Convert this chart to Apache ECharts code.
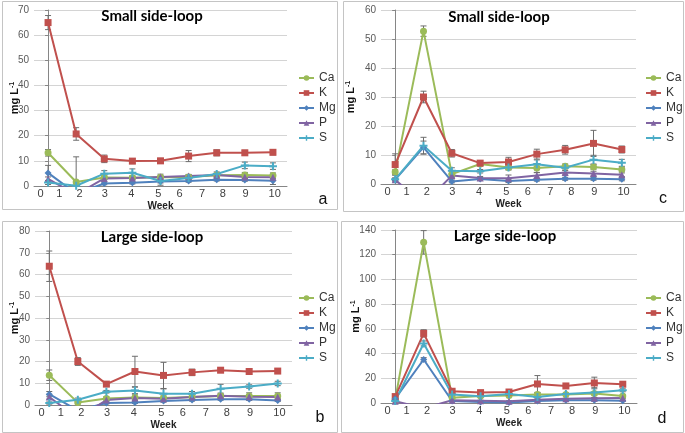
<!DOCTYPE html>
<html>
<head>
<meta charset="utf-8">
<script src="https://cdn.jsdelivr.net/npm/echarts@6/dist/echarts.min.js"></script>
<style>
html, body { margin: 0; padding: 0; background: #fff; }
#chart { width: 685px; height: 433px; }
</style>
</head>
<body>
<div id="chart"></div>
<script>
// week tick labels and where they sit (in sample-index units, samples are evenly spaced)
const weekTicks = [0, 1, 2, 3, 4, 5, 6, 7, 8, 9, 10]
const tickPos = [-0.27, 0.40, 1.12, 2.02, 2.96, 3.92, 4.68, 5.48, 6.22, 7.03, 8.06]
const elements = ['Ca', 'K', 'Mg', 'P', 'S']

// a - small side-loop (first set)
const aCa = [13.2, 1.6, 3.4, 3.3, 3.5, 3.6, 4.3, 4.4, 4.2]
const aCaErr = [1.3, 10, 0.8, 0.8, 1.2, 0.8, 0.8, 1.0, 1.0]
const aK = [65, 20.7, 10.8, 9.9, 10.0, 11.9, 13.2, 13.2, 13.4]
const aKErr = [2.8, 2.5, 1.5, 1.0, 1.0, 2.2, 1.2, 1.0, 1.0]
const aMg = [5.2, -3.0, 1.0, 1.3, 1.8, 2.0, 2.5, 2.4, 2.1]
const aMgErr = [3.0, 0, 0.5, 0.5, 1.5, 0.5, 0.5, 0.5, 1.5]
const aP = [2.8, -3.4, 3.0, 3.2, 3.6, 4.0, 4.4, 3.6, 3.5]
const aPErr = [0.8, 0, 0.5, 0.5, 0.5, 0.6, 0.6, 0.6, 0.6]
const aS = [1.4, 0.1, 4.9, 5.3, 2.0, 3.2, 4.8, 8.2, 7.9]
const aSErr = [0.8, 0.3, 1.2, 1.5, 0.8, 0.8, 0.8, 1.3, 1.3]

// c - small side-loop (second set)
const cCa = [4.1, 52.7, 3.4, 6.9, 5.7, 5.5, 6.1, 5.9, 5.0]
const cCaErr = [0.8, 1.8, 1.0, 0.6, 0.8, 1.5, 0.8, 0.8, 0.8]
const cK = [6.7, 30.0, 10.6, 7.2, 7.6, 10.3, 11.8, 14.0, 11.9]
const cKErr = [3.7, 2.0, 1.3, 0.8, 1.6, 1.7, 1.5, 4.5, 1.2]
const cMg = [1.5, 12.6, 0.9, 1.7, 1.0, 1.5, 1.8, 1.8, 1.6]
const cMgErr = [0.5, 2.2, 0.5, 0.5, 0.5, 0.5, 0.5, 0.5, 0.5]
const cP = [1.5, -7.0, 2.9, 2.1, 2.0, 2.9, 4.0, 3.6, 3.2]
const cPErr = [0.3, 0, 0.5, 0.5, 1.1, 1.0, 0.6, 0.8, 0.6]
const cS = [1.6, 13.2, 4.6, 4.4, 5.7, 6.8, 5.6, 8.4, 7.3]
const cSErr = [0.5, 2.9, 1.0, 0.6, 0.8, 1.5, 0.8, 1.5, 1.2]

// b - large side-loop (first set)
const bCa = [13.7, 1.1, 3.0, 3.5, 3.2, 3.7, 4.1, 4.1, 4.1]
const bCaErr = [2.4, 0.5, 0.8, 1.5, 1.0, 0.8, 0.8, 1.5, 1.5]
const bK = [63.8, 20.0, 9.6, 15.4, 13.6, 15.0, 16.0, 15.4, 15.6]
const bKErr = [7.0, 1.8, 0.8, 7.0, 6.0, 1.5, 1.0, 1.2, 1.0]
const bMg = [5.0, -2.5, 0.9, 1.2, 1.8, 2.3, 2.7, 2.6, 2.1]
const bMgErr = [1.2, 0, 0.4, 0.5, 0.5, 0.5, 0.5, 0.5, 0.5]
const bP = [3.7, -6.1, 2.3, 3.2, 2.9, 3.7, 4.3, 3.8, 3.7]
const bPErr = [1.0, 0, 0.6, 0.6, 0.6, 0.6, 0.8, 0.6, 0.6]
const bS = [0.9, 2.4, 6.1, 6.7, 5.2, 5.2, 7.5, 8.5, 9.9]
const bSErr = [0.5, 0.8, 0.6, 1.5, 2.2, 1.0, 2.0, 0.8, 1.0]

// d - large side-loop (second set)
const dCa = [2.7, 130.0, 4.3, 5.7, 6.0, 6.8, 6.8, 7.6, 5.7]
const dCaErr = [0.5, 9.5, 0.6, 0.6, 0.8, 1.5, 0.8, 1.2, 0.8]
const dK = [5.2, 56.3, 9.5, 8.4, 8.9, 15.4, 13.8, 16.2, 15.2]
const dKErr = [1.0, 3.0, 1.0, 0.8, 0.8, 6.8, 1.0, 4.7, 1.5]
const dMg = [3.5, 35.2, 1.6, 0.8, 0.5, 1.6, 2.2, 2.2, 1.9]
const dMgErr = [0.5, 1.5, 0.5, 0.3, 0.3, 0.5, 0.5, 0.5, 0.5]
const dP = [1.5, -4.2, 2.2, 1.9, 1.4, 2.7, 3.5, 3.8, 4.1]
const dPErr = [0.3, 0, 0.4, 0.4, 0.4, 0.4, 0.4, 0.4, 0.4]
const dS = [1.6, 48.2, 6.8, 5.4, 7.3, 4.9, 7.3, 8.4, 10.3]
const dSErr = [0.5, 2.0, 0.8, 0.8, 0.8, 1.0, 0.8, 4.0, 1.2]

const colors = { Ca: '#9bbb59', K: '#c0504d', Mg: '#4f81bd', P: '#8064a2', S: '#4bacc6' }
const symbols = {
  Ca: ['circle', 7],
  K: ['rect', 7],
  Mg: ['diamond', 7],
  P: ['triangle', 7],
  S: ['path://M3,0H5V3H8V5H5V8H3V5H0V3H3Z', 8]
}

const panels = [
  {
    title: 'Small side-loop', letter: 'a', max: 70, interval: 10,
    grid: { left: 34, top: 10, width: 253, height: 176 },
    legend: { left: 298, top: 72 }, titlePos: [152, 9], letterPos: [323, 192],
    box: [2, 1, 335, 208], nameGap: 14,
    data: { Ca: [aCa, aCaErr], K: [aK, aKErr], Mg: [aMg, aMgErr], P: [aP, aPErr], S: [aS, aSErr] }
  },
  {
    title: 'Small side-loop', letter: 'c', max: 60, interval: 10,
    grid: { left: 381, top: 10, width: 255, height: 174 },
    legend: { left: 645, top: 72 }, titlePos: [499, 10], letterPos: [663, 191],
    box: [343, 1, 340, 210], nameGap: 25,
    data: { Ca: [cCa, cCaErr], K: [cK, cKErr], Mg: [cMg, cMgErr], P: [cP, cPErr], S: [cS, cSErr] }
  },
  {
    title: 'Large side-loop', letter: 'b', max: 80, interval: 10,
    grid: { left: 35, top: 231, width: 257, height: 174 },
    legend: { left: 298, top: 292 }, titlePos: [152, 230], letterPos: [320, 410],
    box: [2, 221, 335, 211], nameGap: 15,
    data: { Ca: [bCa, bCaErr], K: [bK, bKErr], Mg: [bMg, bMgErr], P: [bP, bPErr], S: [bS, bSErr] }
  },
  {
    title: 'Large side-loop', letter: 'd', max: 140, interval: 20,
    grid: { left: 381, top: 230, width: 256, height: 173 },
    legend: { left: 645, top: 292 }, titlePos: [505, 229], letterPos: [662, 411],
    box: [341, 221, 342, 211], nameGap: 20,
    data: { Ca: [dCa, dCaErr], K: [dK, dKErr], Mg: [dMg, dMgErr], P: [dP, dPErr], S: [dS, dSErr] }
  }
]

function weekLabel(v) {
  let best = 0
  for (let i = 1; i < tickPos.length; i++) {
    if (Math.abs(tickPos[i] - v) < Math.abs(tickPos[best] - v)) best = i
  }
  return String(weekTicks[best])
}

function renderErr(params, api) {
  const x = api.value(0), y = api.value(1), e = api.value(2)
  if (!e) return null
  const top = api.coord([x, y + e])
  const bot = api.coord([x, y - e])
  const w = 3
  const st = { stroke: '#6d6d6d', lineWidth: 1 }
  return {
    type: 'group',
    children: [
      { type: 'line', shape: { x1: top[0], y1: top[1], x2: bot[0], y2: bot[1] }, style: st },
      { type: 'line', shape: { x1: top[0] - w, y1: top[1], x2: top[0] + w, y2: top[1] }, style: st },
      { type: 'line', shape: { x1: bot[0] - w, y1: bot[1], x2: bot[0] + w, y2: bot[1] }, style: st }
    ]
  }
}

const font = 'Liberation Sans'
let grids = [], xAxes = [], yAxes = [], legends = [], titles = [], series = [], graphics = []

panels.forEach(function(p, k) {
  grids.push(p.grid)
  xAxes.push({
    gridIndex: k, type: 'value', min: -0.5, max: 8.5,
    name: 'Week', nameLocation: 'middle', nameGap: 15, nameMoveOverlap: false,
    nameTextStyle: { fontFamily: font, fontSize: 10, fontWeight: 'bold', color: '#222' },
    axisLine: { lineStyle: { color: '#868686' } },
    axisTick: { show: false },
    splitLine: { show: false },
    axisLabel: { customValues: tickPos, formatter: weekLabel, fontFamily: font, fontSize: 11, color: '#404040', margin: 2 }
  })
  yAxes.push({
    gridIndex: k, type: 'value', min: 0, max: p.max, interval: p.interval,
    name: 'mg L{sup|-1}', nameLocation: 'middle', nameGap: p.nameGap, nameMoveOverlap: false,
    nameTextStyle: {
      fontFamily: font, fontSize: 11, fontWeight: 'bold', color: '#111',
      rich: { sup: { fontFamily: font, fontSize: 7, fontWeight: 'bold', color: '#111', verticalAlign: 'top' } }
    },
    axisLine: { show: true, lineStyle: { color: '#868686' } },
    axisTick: { show: true, length: 3, lineStyle: { color: '#868686' } },
    splitLine: { lineStyle: { color: '#d4d4d4' } },
    axisLabel: { fontFamily: font, fontSize: 10, color: '#595959', margin: 5 }
  })
  legends.push({
    orient: 'vertical', left: p.legend.left, top: p.legend.top, padding: 0,
    itemWidth: 15, itemHeight: 7, itemGap: 3,
    data: elements,
    textStyle: { fontFamily: font, fontSize: 12, color: '#333' }
  })
  titles.push({
    text: p.title, left: p.titlePos[0], top: p.titlePos[1], textAlign: 'center', padding: 0,
    textStyle: { fontFamily: 'Lato', fontSize: 15, fontWeight: 'bold', color: '#000' }
  })
  titles.push({
    text: p.letter, left: p.letterPos[0], top: p.letterPos[1], textAlign: 'center', padding: 0,
    textStyle: { fontFamily: font, fontSize: 16, fontWeight: 'normal', color: '#111' }
  })
  graphics.push({
    type: 'rect', silent: true, z: -1,
    shape: { x: p.box[0] + 0.5, y: p.box[1] + 0.5, width: p.box[2], height: p.box[3] },
    style: { fill: 'none', stroke: '#c4c4c4', lineWidth: 1 }
  })

  elements.forEach(function(el) {
    const vals = p.data[el][0]
    const errs = p.data[el][1]
    series.push({
      name: el + ' err', type: 'custom', xAxisIndex: k, yAxisIndex: k,
      renderItem: renderErr, clip: true, silent: true, z: 2,
      encode: { x: 0, y: 1 },
      data: vals.map(function(v, i) { return [i, v, errs[i]] })
    })
    series.push({
      name: el, type: 'line', xAxisIndex: k, yAxisIndex: k,
      symbol: symbols[el][0], symbolSize: symbols[el][1], showAllSymbol: true,
      itemStyle: { color: colors[el] },
      lineStyle: { color: colors[el], width: 2 },
      clip: true, z: 3,
      data: vals.map(function(v, i) { return [i, v] })
    })
  })
})

const chart = echarts.init(document.getElementById('chart'))
chart.setOption({
  animation: false,
  backgroundColor: '#fff',
  title: titles,
  grid: grids,
  xAxis: xAxes,
  yAxis: yAxes,
  legend: legends,
  graphic: graphics,
  series: series
})
</script>
</body>
</html>
